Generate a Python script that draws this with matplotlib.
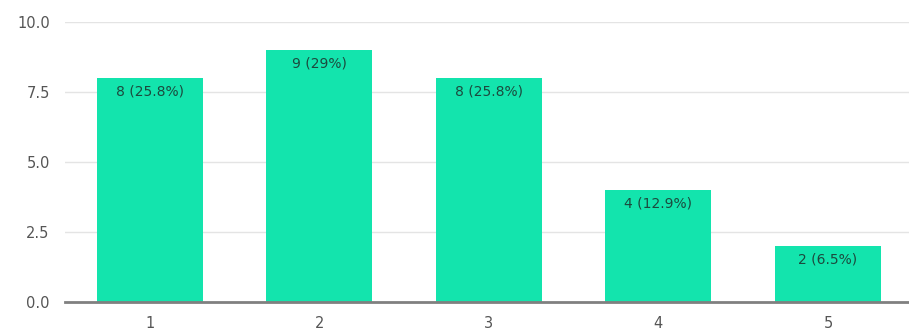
import matplotlib
matplotlib.use('Agg')
import matplotlib.pyplot as plt

# rating counts (31 answers)
cats = ['1', '2', '3', '4', '5']
counts = [8, 9, 8, 4, 2]
pcts = ['25.8%', '29%', '25.8%', '12.9%', '6.5%']
yticks = [0.0, 2.5, 5.0, 7.5, 10.0]

C_BAR = '#13e4ad'
C_TXT = '#555555'

fig = plt.figure(figsize=(9.09, 3.33), dpi=100)
ax = fig.add_axes([65/909, 31/333, 1 - 65/909, 280/333])

x = list(range(len(cats)))
bars = ax.bar(x, counts, width=0.625, color=C_BAR, edgecolor='none', zorder=3)
for b, n, p in zip(bars, counts, pcts):
    ax.annotate(f'{n} ({p})', xy=(b.get_x() + b.get_width()/2, b.get_height()),
                xytext=(0, -5), textcoords='offset points', ha='center', va='top',
                fontsize=10, color='#1c4a3e', zorder=4)

ax.set_xlim(-0.5, 4.478)
ax.set_ylim(0, 10)
ax.set_yticks(yticks)
ax.set_yticklabels([f'{v:.1f}' for v in yticks], fontsize=10.5, color=C_TXT)
ax.set_xticks(x)
ax.set_xticklabels(cats, fontsize=10.5, color=C_TXT)
ax.tick_params(length=0, pad=11, axis='y')
ax.tick_params(length=0, pad=10, axis='x')
ax.grid(axis='y', color='#e4e4e4', lw=1, zorder=0)
for s in ['top', 'right', 'left']:
    ax.spines[s].set_visible(False)
ax.spines['bottom'].set_color('#808080')
ax.spines['bottom'].set_linewidth(2)
ax.spines['bottom'].set_zorder(5)

fig.savefig('out.png', dpi=100, facecolor='white')
